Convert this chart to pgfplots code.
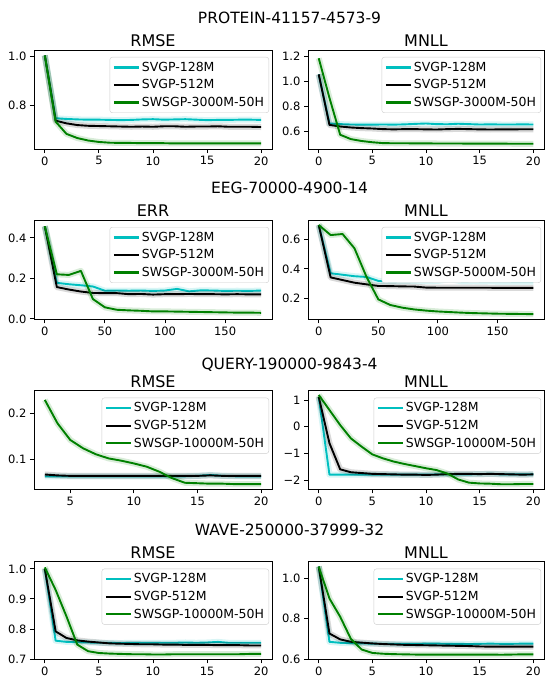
\documentclass[border=0pt]{standalone}
\usepackage{pgfplots}
\pgfplotsset{compat=1.18}
\usepackage{pgfplotstable}
\usepackage{fontspec}
\setmainfont{DejaVu Sans}
\definecolor{mc}{rgb}{0,0.75,0.75}
\definecolor{mg}{rgb}{0,0.5,0}

\pgfplotstableread{
x c k g
0 1.005 1.005 1.005
1 0.749 0.739 0.735
2 0.746 0.728 0.685
3 0.744 0.721 0.668
4 0.743 0.718 0.658
5 0.743 0.717 0.652
6 0.742 0.716 0.649
7 0.741 0.715 0.648
8 0.742 0.714 0.648
9 0.744 0.715 0.647
10 0.745 0.714 0.647
11 0.743 0.716 0.647
12 0.744 0.716 0.646
13 0.745 0.714 0.646
14 0.743 0.715 0.646
15 0.741 0.715 0.646
16 0.742 0.716 0.646
17 0.742 0.714 0.646
18 0.743 0.714 0.646
19 0.743 0.714 0.646
20 0.742 0.713 0.646
}\PR
\pgfplotstableread{
x c k g
0 1.058 1.058 1.187
1 0.665 0.654 0.87
2 0.660 0.641 0.575
3 0.657 0.633 0.540
4 0.656 0.628 0.525
5 0.656 0.625 0.515
6 0.657 0.620 0.508
7 0.656 0.618 0.507
8 0.658 0.620 0.507
9 0.662 0.620 0.506
10 0.665 0.618 0.506
11 0.660 0.617 0.505
12 0.659 0.620 0.505
13 0.663 0.622 0.505
14 0.660 0.620 0.504
15 0.657 0.618 0.504
16 0.658 0.617 0.504
17 0.657 0.618 0.504
18 0.657 0.618 0.503
19 0.658 0.619 0.503
20 0.657 0.619 0.503
}\PM
\pgfplotstableread{
x c k g
0 0.457 0.457 0.457
10 0.178 0.157 0.220
20 0.171 0.145 0.217
30 0.166 0.135 0.237
40 0.160 0.128 0.098
50 0.139 0.127 0.057
60 0.140 0.127 0.045
70 0.139 0.122 0.042
80 0.140 0.123 0.040
90 0.138 0.120 0.037
100 0.140 0.122 0.037
110 0.148 0.122 0.036
120 0.136 0.123 0.035
130 0.141 0.122 0.034
140 0.140 0.122 0.033
150 0.138 0.121 0.032
160 0.139 0.122 0.031
170 0.138 0.121 0.031
180 0.140 0.121 0.030
}\ER
\pgfplotstableread{
x c k g
0 0.697 0.697 0.697
10 0.370 0.342 0.629
20 0.360 0.324 0.636
30 0.350 0.306 0.539
40 0.345 0.295 0.347
50 0.318 0.284 0.193
60 0.315 0.283 0.155
70 0.316 0.281 0.137
80 0.317 0.280 0.125
90 0.316 0.273 0.117
100 0.318 0.272 0.111
110 0.330 0.272 0.107
120 0.315 0.272 0.103
130 0.316 0.272 0.100
140 0.315 0.272 0.098
150 0.314 0.271 0.096
160 0.314 0.271 0.095
170 0.313 0.271 0.094
180 0.313 0.271 0.093
}\EM
\pgfplotstableread{
x c k g
3 0.063 0.067 0.229
4 0.063 0.065 0.178
5 0.063 0.064 0.142
6 0.063 0.064 0.124
7 0.063 0.064 0.111
8 0.063 0.064 0.102
9 0.063 0.064 0.097
10 0.063 0.064 0.091
11 0.063 0.064 0.084
12 0.063 0.064 0.073
13 0.063 0.064 0.059
14 0.063 0.064 0.049
15 0.064 0.064 0.048
16 0.066 0.065 0.047
17 0.064 0.064 0.047
18 0.063 0.064 0.046
19 0.063 0.064 0.046
20 0.063 0.064 0.046
}\QR
\pgfplotstableread{
x c k g
0 1.12 1.12 1.19
1 -1.80 -0.62 0.625
2 -1.80 -1.60 0.06
3 -1.80 -1.71 -0.44
4 -1.80 -1.74 -0.75
5 -1.80 -1.77 -1.04
6 -1.80 -1.78 -1.19
7 -1.80 -1.79 -1.31
8 -1.80 -1.80 -1.40
9 -1.80 -1.80 -1.48
10 -1.80 -1.81 -1.56
11 -1.79 -1.80 -1.63
12 -1.79 -1.78 -1.76
13 -1.79 -1.77 -1.98
14 -1.79 -1.77 -2.10
15 -1.78 -1.78 -2.13
16 -1.77 -1.77 -2.14
17 -1.79 -1.78 -2.16
18 -1.79 -1.79 -2.16
19 -1.79 -1.80 -2.15
20 -1.79 -1.79 -2.15
}\QM
\pgfplotstableread{
x c k g
0 1.000 1.000 1.005
1 0.761 0.792 0.930
2 0.757 0.770 0.842
3 0.756 0.762 0.748
4 0.755 0.758 0.726
5 0.754 0.755 0.720
6 0.754 0.752 0.718
7 0.753 0.751 0.717
8 0.754 0.750 0.716
9 0.754 0.749 0.716
10 0.754 0.749 0.715
11 0.754 0.748 0.715
12 0.754 0.748 0.716
13 0.755 0.747 0.716
14 0.754 0.747 0.716
15 0.755 0.747 0.716
16 0.757 0.746 0.716
17 0.754 0.746 0.716
18 0.754 0.746 0.716
19 0.754 0.745 0.717
20 0.754 0.745 0.717
}\WR
\pgfplotstableread{
x c k g
0 1.058 1.058 1.058
1 0.686 0.727 0.900
2 0.681 0.698 0.810
3 0.679 0.686 0.700
4 0.678 0.682 0.648
5 0.677 0.678 0.631
6 0.676 0.675 0.627
7 0.676 0.673 0.625
8 0.676 0.671 0.624
9 0.676 0.670 0.623
10 0.677 0.669 0.623
11 0.677 0.668 0.623
12 0.676 0.667 0.623
13 0.676 0.666 0.623
14 0.675 0.665 0.623
15 0.676 0.663 0.623
16 0.677 0.662 0.623
17 0.676 0.662 0.622
18 0.676 0.662 0.623
19 0.677 0.662 0.624
20 0.677 0.662 0.624
}\WM

\newcommand\ser[3]{%
  \addplot[#1, line width=6pt, opacity=0.15, forget plot] table[x=x,y=#2] {#3};
  \addplot[#1, line width=1.9pt] table[x=x,y=#2] {#3};}
\newcommand\three[1]{\ser{mc}{c}{#1}\ser{black}{k}{#1}\ser{mg}{g}{#1}}

\pgfplotsset{
 panel/.style={
   scale only axis,
   axis line style={line width=0.9pt},
   tick align=outside,
   tick pos=left,
   major tick length=4pt,
   every tick/.style={black, line width=0.9pt},
   /pgf/number format/assume math mode=true,
   ticklabel style={font=\fontsize{11.5}{13}\selectfont},
   every axis title shift=0pt,
   title style={font=\fontsize{16}{18}\selectfont, at={(0.5,1)}, anchor=base, yshift=3.5pt},
   legend style={at={(1,1)}, anchor=north east, xshift=-3pt, yshift=-7pt,
     draw=black!20, rounded corners=2.5pt, font=\fontsize{12.5}{15}\selectfont,
     inner sep=2.8pt, row sep=2.8pt},
   legend cell align=left,
   legend image code/.code={\draw[##1, line width=2.3pt] (0pt,0pt) -- (25pt,0pt);},
   every axis plot/.append style={line join=round},
 },
 L/.style={panel, width=238pt},
 R/.style={panel, width=236pt},
}

\begin{document}
\begin{tikzpicture}
\def\sfont{\fontsize{15.5}{18}\selectfont}
% Row 1
\node[font=\sfont, anchor=base] at (289.5pt,-23.3pt) {PROTEIN-41157-4573-9};
\begin{axis}[L, at={(34pt,-149pt)}, anchor=south west, height=99pt,
  xmin=-1, xmax=21, ymin=0.6233, ymax=1.0273,
  xtick={0,5,10,15,20}, ytick={0.8,1.0}, yticklabels={0.8,1.0}, title={RMSE}]
\three{\PR}
\legend{SVGP-128M,SVGP-512M,SWSGP-3000M-50H}
\end{axis}
\begin{axis}[R, at={(308pt,-149pt)}, anchor=south west, height=99pt,
  xmin=-1, xmax=21, ymin=0.461, ymax=1.253,
  xtick={0,5,10,15,20}, ytick={0.6,0.8,1.0,1.2}, yticklabels={0.6,0.8,1.0,1.2}, title={MNLL}]
\three{\PM}
\legend{SVGP-128M,SVGP-512M,SWSGP-3000M-50H}
\end{axis}
% Row 2
\node[font=\sfont, anchor=base] at (289.5pt,-193.3pt) {EEG-70000-4900-14};
\begin{axis}[L, at={(34pt,-319.3pt)}, anchor=south west, height=99.3pt,
  xmin=-9, xmax=189, ymin=-0.002, ymax=0.488,
  xtick={0,50,100,150}, ytick={0,0.2,0.4}, yticklabels={0.0,0.2,0.4}, title={ERR}]
\three{\ER}
\legend{SVGP-128M,SVGP-512M,SWSGP-3000M-50H}
\end{axis}
\begin{axis}[R, at={(308pt,-319.3pt)}, anchor=south west, height=99.3pt,
  xmin=-9, xmax=189, ymin=0.058, ymax=0.731,
  xtick={0,50,100,150}, ytick={0.2,0.4,0.6}, yticklabels={0.2,0.4,0.6}, title={MNLL}]
\three{\EM}
\legend{SVGP-128M,SVGP-512M,SWSGP-5000M-50H}
\end{axis}
% Row 3
\node[font=\sfont, anchor=base] at (289.5pt,-369pt) {QUERY-190000-9843-4};
\begin{axis}[L, at={(34pt,-489.3pt)}, anchor=south west, height=98.6pt,
  xmin=2.15, xmax=20.85, ymin=0.0348, ymax=0.249,
  xtick={5,10,15,20}, ytick={0.1,0.2}, yticklabels={0.1,0.2}, title={RMSE}]
\three{\QR}
\legend{SVGP-128M,SVGP-512M,SWSGP-10000M-50H}
\end{axis}
\begin{axis}[R, at={(308pt,-489.3pt)}, anchor=south west, height=98.6pt,
  xmin=-1, xmax=21, ymin=-2.35, ymax=1.35,
  xtick={0,5,10,15,20}, ytick={-2,-1,0,1}, yticklabels={−2,−1,0,1}, title={MNLL}]
\three{\QM}
\legend{SVGP-128M,SVGP-512M,SWSGP-10000M-50H}
\end{axis}
% Row 4
\node[font=\sfont, anchor=base] at (289.5pt,-535pt) {WAVE-250000-37999-32};
\begin{axis}[L, at={(34pt,-659.3pt)}, anchor=south west, height=97.6pt,
  xmin=-1, xmax=21, ymin=0.699, ymax=1.024,
  xtick={0,5,10,15,20}, ytick={0.7,0.8,0.9,1.0}, yticklabels={0.7,0.8,0.9,1.0}, title={RMSE}]
\three{\WR}
\legend{SVGP-128M,SVGP-512M,SWSGP-10000M-50H}
\end{axis}
\begin{axis}[R, at={(308pt,-659.3pt)}, anchor=south west, height=97.6pt,
  xmin=-1, xmax=21, ymin=0.5995, ymax=1.082,
  xtick={0,5,10,15,20}, ytick={0.6,0.8,1.0}, yticklabels={0.6,0.8,1.0}, title={MNLL}]
\three{\WM}
\legend{SVGP-128M,SVGP-512M,SWSGP-10000M-50H}
\end{axis}
\pgfresetboundingbox
\useasboundingbox (0,0) rectangle (544pt,-677pt);
\end{tikzpicture}
\end{document}
